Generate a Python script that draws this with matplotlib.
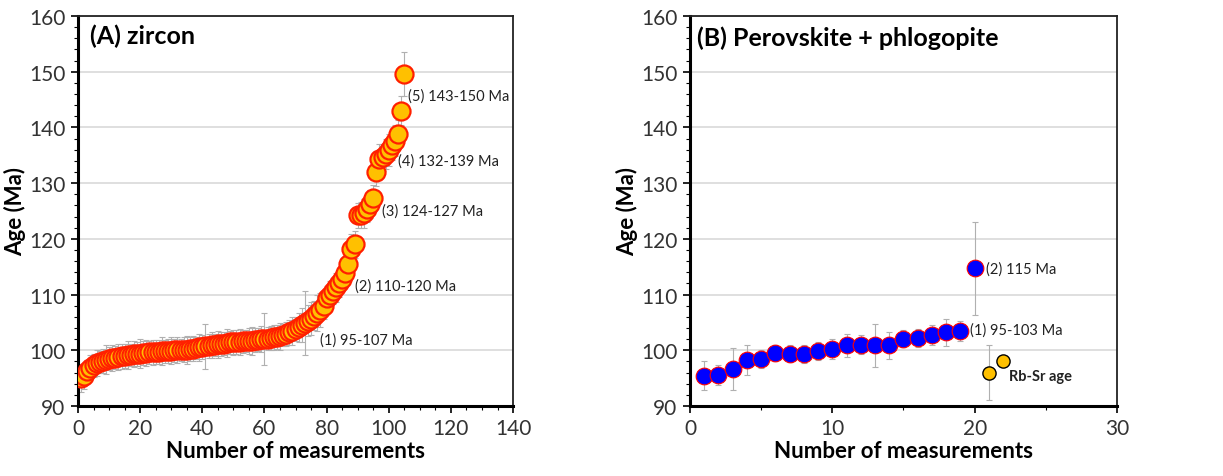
import numpy as np
import matplotlib.pyplot as plt
from matplotlib.ticker import MultipleLocator

plt.rcParams['font.family'] = ['Lato', 'DejaVu Sans']

# (A) zircon ages, sorted, with 2-sigma errors
zircon_age = [
    95.0, 95.3, 96.2, 96.9, 97.3, 97.7, 97.9, 98.1, 98.3, 98.5,
    98.6, 98.7, 98.8, 98.9, 99.0, 99.1, 99.2, 99.3, 99.3, 99.4,
    99.5, 99.5, 99.6, 99.6, 99.7, 99.7, 99.8, 99.8, 99.9, 99.9,
    100.0, 100.0, 100.0, 100.1, 100.1, 100.2, 100.3, 100.4, 100.5, 100.6,
    100.7, 100.8, 100.9, 101.0, 101.1, 101.1, 101.2, 101.3, 101.4, 101.4,
    101.5, 101.5, 101.6, 101.6, 101.7, 101.7, 101.8, 101.9, 102.0, 102.0,
    102.1, 102.2, 102.3, 102.4, 102.5, 102.7, 102.9, 103.2, 103.5, 103.8,
    104.1, 104.5, 104.9, 105.3, 105.7, 106.2, 106.7, 107.2, 108.0, 109.3,
    110.0, 110.6, 111.3, 112.0, 112.8, 113.8, 115.5, 118.2, 119.0,
    124.2, 124.3, 124.6, 125.3, 126.2, 127.3,
    132.0, 134.3, 134.6, 135.2, 135.9, 136.8, 137.6, 138.8,
    143.0, 149.6,
]
zircon_err = [
    2.5, 2.2, 2.0, 2.3, 2.1, 2.4, 2.0, 2.2, 2.6, 2.1,
    2.3, 2.0, 2.4, 2.2, 2.1, 2.5, 2.0, 2.3, 2.2, 2.6,
    2.1, 2.4, 2.0, 2.3, 2.2, 2.1, 2.5, 2.0, 2.2, 2.4,
    2.1, 2.3, 2.0, 2.2, 2.5, 2.1, 2.3, 2.0, 2.4, 2.2,
    4.0, 2.1, 2.3, 2.0, 2.4, 2.2, 2.1, 2.5, 2.0, 2.3,
    2.2, 2.4, 2.1, 2.0, 2.3, 2.5, 2.2, 2.1, 2.4, 4.7,
    2.0, 2.2, 2.3, 2.1, 2.4, 2.0, 2.2, 2.3, 2.5, 2.1,
    2.6, 3.0, 5.8, 2.8, 3.0, 2.6, 3.2, 3.0, 2.4, 2.2,
    2.5, 2.3, 2.6, 2.4, 2.2, 2.5, 2.3, 2.6, 2.4,
    2.2, 2.4, 2.6, 2.3, 2.5, 2.4,
    2.6, 2.8, 2.5, 2.7, 2.9, 2.6, 2.8, 2.5,
    2.6, 4.0,
]
zircon_n = list(range(1, len(zircon_age) + 1))

# (B) perovskite + phlogopite
perov_n = list(range(1, 21))
perov_age = [95.4, 95.6, 96.6, 98.2, 98.4, 99.5, 99.4, 99.4, 99.9, 100.3,
             100.9, 101.0, 100.9, 100.9, 102.1, 102.2, 102.7, 103.2, 103.4, 114.7]
perov_err = [2.6, 1.8, 3.8, 2.7, 1.6, 1.5, 1.5, 1.6, 1.6, 1.8,
             2.1, 1.7, 3.9, 2.4, 1.6, 1.6, 1.8, 2.4, 1.8, 8.4]
rbsr_n = [21, 22]
rbsr_age = [96.0, 98.1]
rbsr_err = [5.0, 0.0]

zircon_labels = ['(5) 143-150 Ma', '(4) 132-139 Ma', '(3) 124-127 Ma',
                 '(2) 110-120 Ma', '(1) 95-107 Ma']
zircon_label_pos = [(106.2, 145.7), (103.0, 134.0), (97.7, 125.0),
                    (89.2, 111.7), (77.9, 102.0)]


def style_axes(ax, xmax, xmajor, xminor):
    ax.set_xlim(0, xmax)
    ax.set_ylim(90, 160)
    ax.xaxis.set_major_locator(MultipleLocator(xmajor))
    ax.xaxis.set_minor_locator(MultipleLocator(xminor))
    ax.yaxis.set_major_locator(MultipleLocator(10))
    ax.yaxis.set_minor_locator(MultipleLocator(2))
    ax.grid(axis='y', which='major', color='#d9d9d9', lw=1.2, zorder=0)
    ax.set_axisbelow(True)
    for s in ['top', 'right']:
        ax.spines[s].set_linewidth(1.3)
        ax.spines[s].set_color('#222222')
    for s in ['left', 'bottom']:
        ax.spines[s].set_linewidth(2.2)
        ax.spines[s].set_color('black')
    ax.tick_params(which='major', direction='out', length=5, width=1.2,
                   labelsize=15, pad=4, labelcolor='#333333')
    ax.tick_params(which='minor', direction='out', length=3, width=0.8)
    ax.set_xlabel('Number of measurements', fontsize=16, fontweight='bold', labelpad=1)
    ax.set_ylabel('Age (Ma)', fontsize=16, fontweight='bold', labelpad=2)


fig = plt.figure(figsize=(12.23, 4.77), dpi=100)
axA = fig.add_axes([0.0638, 0.1468, 0.3557, 0.8176])
axB = fig.add_axes([0.5642, 0.1468, 0.3491, 0.8176])

# panel A
axA.errorbar(zircon_n, zircon_age, yerr=zircon_err, fmt='none', ecolor='#b0b0b0',
             elinewidth=0.8, capsize=2.5, capthick=0.8, zorder=2)
axA.plot(zircon_n, zircon_age, 'o', ms=13, mfc='#FFC000', mec='#FF2000',
         mew=1.6, zorder=3)
style_axes(axA, 140, 20, 5)
axA.text(4, 156.5, '(A) zircon', fontsize=18, fontweight='bold', va='center')
for lab, (x, y) in zip(zircon_labels, zircon_label_pos):
    axA.text(x, y, lab, fontsize=10.5, va='center', color='#222222')

# panel B
axB.errorbar(perov_n, perov_age, yerr=perov_err, fmt='none', ecolor='#b0b0b0',
             elinewidth=0.8, capsize=2.5, capthick=0.8, zorder=2)
axB.plot(perov_n, perov_age, 'o', ms=12, mfc='#0000FF', mec='#FF0000',
         mew=0.8, zorder=3)
axB.errorbar(rbsr_n, rbsr_age, yerr=rbsr_err, fmt='none', ecolor='#b0b0b0',
             elinewidth=0.8, capsize=2.5, capthick=0.8, zorder=2)
axB.plot(rbsr_n, rbsr_age, 'o', ms=9.5, mfc='#FFC000', mec='black',
         mew=1.0, zorder=3)
style_axes(axB, 30, 10, 5)
axB.text(0.5, 156.2, '(B) Perovskite + phlogopite', fontsize=18,
         fontweight='bold', va='center')
axB.text(20.8, 114.7, '(2) 115 Ma', fontsize=10.5, va='center', color='#222222')
axB.text(19.7, 103.8, '(1) 95-103 Ma', fontsize=10.5, va='center', color='#222222')
axB.text(22.4, 95.3, 'Rb-Sr age', fontsize=10.5, fontweight='bold', va='center',
         color='#222222')

fig.savefig('out.png', dpi=100)
